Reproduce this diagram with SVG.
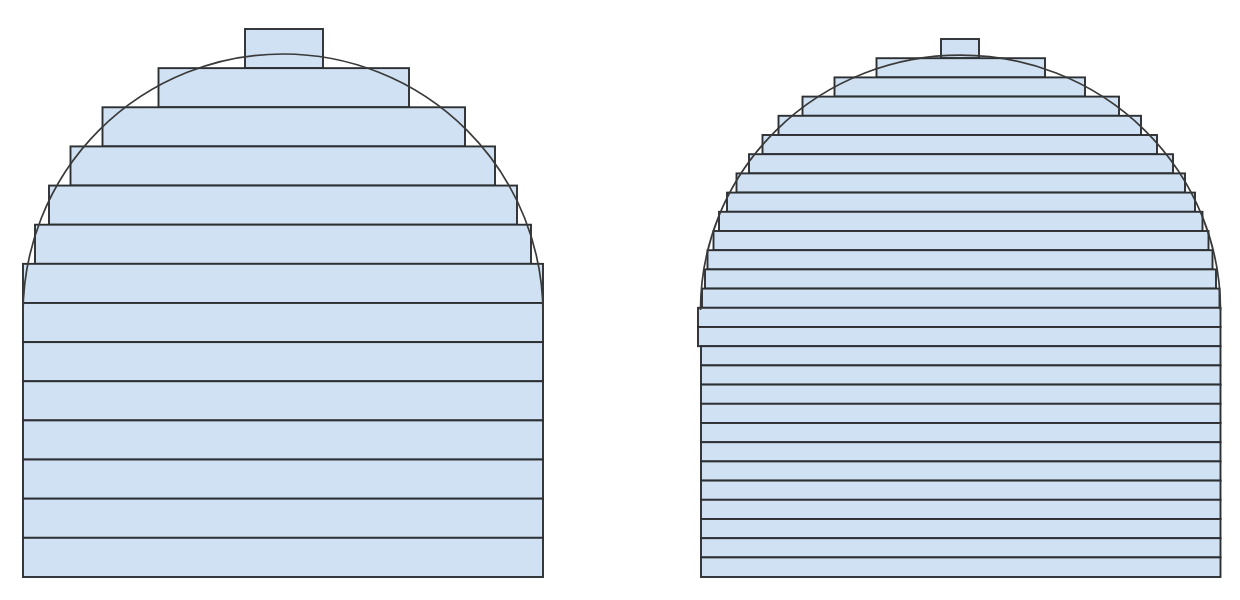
<svg xmlns="http://www.w3.org/2000/svg" width="1240" height="600" viewBox="0 0 1240 600">
<style>
.s{fill:#cfe1f2;stroke:#2d3033;stroke-width:1.9}
.arc{fill:none;stroke:#3a3a3a;stroke-width:1.7}
</style>
<rect width="1240" height="600" fill="#fff"/>
<g id="left-slices">
<rect class="s" x="245" y="29" width="78" height="39.14"/>
<rect class="s" x="158.5" y="68.14" width="250.5" height="39.14"/>
<rect class="s" x="102.5" y="107.28" width="362.5" height="39.14"/>
<rect class="s" x="70.5" y="146.42" width="424.5" height="39.14"/>
<rect class="s" x="49" y="185.56" width="468" height="39.14"/>
<rect class="s" x="35" y="224.7" width="496" height="39.14"/>
<rect class="s" x="23" y="263.84" width="520" height="39.14"/>
<rect class="s" x="23" y="302.98" width="520" height="39.14"/>
<rect class="s" x="23" y="342.12" width="520" height="39.14"/>
<rect class="s" x="23" y="381.26" width="520" height="39.14"/>
<rect class="s" x="23" y="420.4" width="520" height="39.14"/>
<rect class="s" x="23" y="459.54" width="520" height="39.14"/>
<rect class="s" x="23" y="498.68" width="520" height="39.14"/>
<rect class="s" x="23" y="537.82" width="520" height="39.18"/>
</g>
<g id="right-slices">
<rect class="s" x="941" y="39" width="38" height="19.2"/>
<rect class="s" x="876.5" y="58.2" width="168.5" height="19.2"/>
<rect class="s" x="834.5" y="77.4" width="250.5" height="19.2"/>
<rect class="s" x="802.5" y="96.6" width="316.5" height="19.2"/>
<rect class="s" x="778.5" y="115.8" width="362.5" height="19.2"/>
<rect class="s" x="762.5" y="135" width="394.5" height="19.2"/>
<rect class="s" x="749" y="154.2" width="424" height="19.2"/>
<rect class="s" x="736.5" y="173.4" width="448.5" height="19.2"/>
<rect class="s" x="727" y="192.6" width="468" height="19.2"/>
<rect class="s" x="719" y="211.8" width="483.5" height="19.2"/>
<rect class="s" x="713.5" y="231" width="495" height="19.2"/>
<rect class="s" x="707.5" y="250.2" width="505" height="19.2"/>
<rect class="s" x="705" y="269.4" width="511" height="19.2"/>
<rect class="s" x="702" y="288.6" width="517.5" height="19.2"/>
<rect class="s" x="698" y="307.8" width="522.5" height="19.2"/>
<rect class="s" x="698" y="327" width="522.5" height="19.2"/>
<rect class="s" x="701" y="346.2" width="519.5" height="19.2"/>
<rect class="s" x="701" y="365.4" width="519.5" height="19.2"/>
<rect class="s" x="701" y="384.6" width="519.5" height="19.2"/>
<rect class="s" x="701" y="403.8" width="519.5" height="19.2"/>
<rect class="s" x="701" y="423" width="519.5" height="19.2"/>
<rect class="s" x="701" y="442.2" width="519.5" height="19.2"/>
<rect class="s" x="701" y="461.4" width="519.5" height="19.2"/>
<rect class="s" x="701" y="480.6" width="519.5" height="19.2"/>
<rect class="s" x="701" y="499.8" width="519.5" height="19.2"/>
<rect class="s" x="701" y="519" width="519.5" height="19.2"/>
<rect class="s" x="701" y="538.2" width="519.5" height="19.2"/>
<rect class="s" x="701" y="557.4" width="519.5" height="19.6"/>
</g>
<g id="arcs">
<path class="arc" d="M23 314 A260 260 0 0 1 543 314"/>
<path class="arc" d="M700.5 310 A260 255 0 0 1 1220.5 310"/>
</g>
</svg>
